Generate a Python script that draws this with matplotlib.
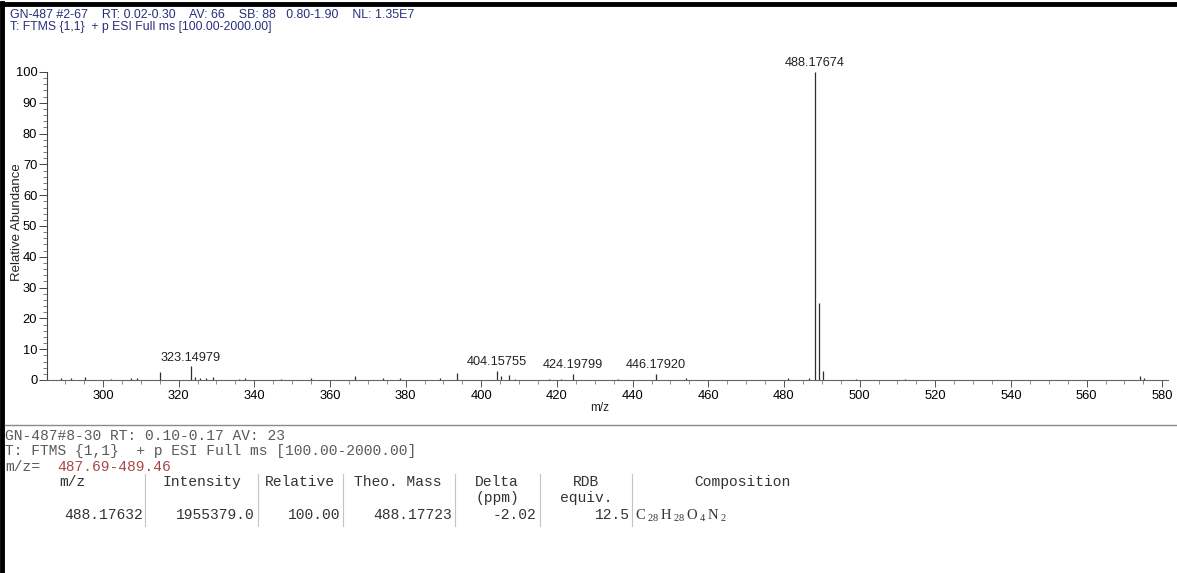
import matplotlib
matplotlib.use("Agg")
import matplotlib.pyplot as plt
from matplotlib.ticker import MultipleLocator

W, H = 1177, 573

plt.rcParams["font.family"] = ["Liberation Sans", "DejaVu Sans"]
plt.rcParams["mathtext.fontset"] = "custom"
plt.rcParams["mathtext.rm"] = "Liberation Serif"

HEADER_1 = "GN-487 #2-67    RT: 0.02-0.30    AV: 66    SB: 88   0.80-1.90    NL: 1.35E7"
HEADER_2 = "T: FTMS {1,1}  + p ESI Full ms [100.00-2000.00]"

# centroid peaks: m/z and relative abundance (%)
mz = [289.0, 291.5, 295.2, 302.0, 307.3, 309.0, 315.2, 323.14979, 324.2, 325.6,
      327.2, 329.1, 336.0, 337.5, 347.0, 355.1, 366.5, 374.0, 378.5, 389.0,
      393.5, 404.15755, 405.2, 407.2, 409.0, 418.0, 421.0, 424.19799, 436.0,
      446.17920, 454.0, 481.0, 486.5, 488.17674, 489.18, 490.18, 499.0, 512.0,
      574.0, 575.2]
abund = [0.5, 0.6, 0.9, 0.4, 0.5, 0.5, 2.6, 4.4, 1.0, 0.6,
         0.5, 1.0, 0.4, 0.5, 0.4, 0.6, 1.2, 0.5, 0.5, 0.6,
         2.2, 3.0, 1.3, 1.6, 0.4, 0.4, 0.4, 2.0, 0.4,
         2.0, 0.5, 0.7, 0.5, 100.0, 25.0, 2.8, 0.4, 0.3,
         1.3, 0.5]
labelled = [323.14979, 404.15755, 424.19799, 446.17920, 488.17674]

# elemental composition report
INFO_1 = "GN-487#8-30 RT: 0.10-0.17 AV: 23"
INFO_2 = "T: FTMS {1,1}  + p ESI Full ms [100.00-2000.00]"
MZ_RANGE = "487.69-489.46"
col_head_1 = ["m/z", "Intensity", "Relative", "Theo. Mass", "Delta", "RDB", "Composition"]
col_head_2 = ["", "", "", "", "(ppm)", "equiv.", ""]
row_vals = ["488.17632", "1955379.0", "100.00", "488.17723", "-2.02", "12.5"]
composition = r"$\mathrm{C\,{}_{28}\,H\,{}_{28}\,O\,{}_{4}\,N\,{}_{2}}$"


def fx(px):
    return px / W


def fy(py):
    return 1 - py / H


fig = plt.figure(figsize=(W / 100, H / 100), dpi=100)

# frame lines
fig.add_artist(plt.Line2D([0, 1], [fy(4), fy(4)], color="black", lw=3.5))
fig.add_artist(plt.Line2D([fx(2), fx(2)], [0, fy(3)], color="black", lw=3.5))
fig.add_artist(plt.Line2D([fx(5), 1], [fy(425), fy(425)], color="#8a8a8a", lw=1.0))

navy = "#27307a"
fig.text(fx(10), fy(15), HEADER_1, color=navy, fontsize=8.9, va="center")
fig.text(fx(10), fy(27), HEADER_2, color=navy, fontsize=8.8, va="center")

# spectrum axes
x0, x1, y_top, y_bot = 47, 1168, 72, 380
ax = fig.add_axes([fx(x0), fy(y_bot), fx(x1 - x0), (y_bot - y_top) / H])
ax.vlines(mz, 0, abund, color="#2e2e2e", lw=0.9)
ax.set_xlim(285.2, 581.5)
ax.set_ylim(0, 100)

for m, a in zip(mz, abund):
    if m in labelled:
        ax.annotate(f"{m:.5f}", (m, a), xytext=(0, 2), textcoords="offset points",
                    ha="center", va="bottom", fontsize=9.2, color="#222222",
                    annotation_clip=False)

for s in ["top", "right"]:
    ax.spines[s].set_visible(False)
ax.spines["left"].set_color("#444444")
ax.spines["bottom"].set_color("#666666")
ax.spines["left"].set_linewidth(0.8)
ax.spines["bottom"].set_linewidth(0.8)

ax.xaxis.set_major_locator(MultipleLocator(20))
ax.xaxis.set_minor_locator(MultipleLocator(5))
ax.yaxis.set_major_locator(MultipleLocator(10))
ax.yaxis.set_minor_locator(MultipleLocator(2))
ax.tick_params(axis="x", which="major", length=5, width=0.7, color="#555555",
               labelsize=9.3, pad=2)
ax.tick_params(axis="x", which="minor", length=3, width=0.6, color="#777777")
ax.tick_params(axis="y", which="major", length=6, width=0.7, color="#444444",
               labelsize=9.3, pad=1)
ax.tick_params(axis="y", which="minor", length=3, width=0.6, color="#666666")

fig.text(fx(600), fy(408), "m/z", fontsize=8.5, ha="center", va="center", color="#222222")
fig.text(fx(17), fy(222), "Relative Abundance", fontsize=9.5, rotation=90,
         ha="center", va="center", color="#222222")

# composition report text
mono = ["Liberation Mono", "DejaVu Sans Mono"]
grey = "#5a5a5a"
fs = 10.5
cw = fs / 72 * 100 * 0.6  # monospace advance in pixels
fig.text(fx(5), fy(436), INFO_1, family=mono, fontsize=fs, color=grey, va="center")
fig.text(fx(5), fy(451), INFO_2, family=mono, fontsize=fs, color=grey, va="center")
fig.text(fx(5), fy(467), "m/z=", family=mono, fontsize=fs, color=grey, va="center")
fig.text(fx(5 + 6 * cw), fy(467), MZ_RANGE, family=mono, fontsize=fs,
         color="#a84848", va="center")

head_x = [72, 202, 300, 398, 497, 586, 742]
val_right = [143, 255, 340, 452, 536, 630]
seps = [145, 258, 343, 455, 540, 632]
for hx, h1, h2 in zip(head_x, col_head_1, col_head_2):
    fig.text(fx(hx), fy(482), h1, family=mono, fontsize=fs, color="#333333",
             ha="center", va="center")
    if h2:
        fig.text(fx(hx), fy(498), h2, family=mono, fontsize=fs, color="#333333",
                 ha="center", va="center")
for vx, v in zip(val_right, row_vals):
    fig.text(fx(vx), fy(515), v, family=mono, fontsize=fs, color="#333333",
             ha="right", va="center")
for sx in seps:
    fig.add_artist(plt.Line2D([fx(sx), fx(sx)], [fy(474), fy(526)],
                              color="#c4c4c4", lw=0.8))
fig.text(fx(635), fy(516), composition, fontsize=10.5, color="#333333", va="center")

fig.savefig("out.png", dpi=100)
